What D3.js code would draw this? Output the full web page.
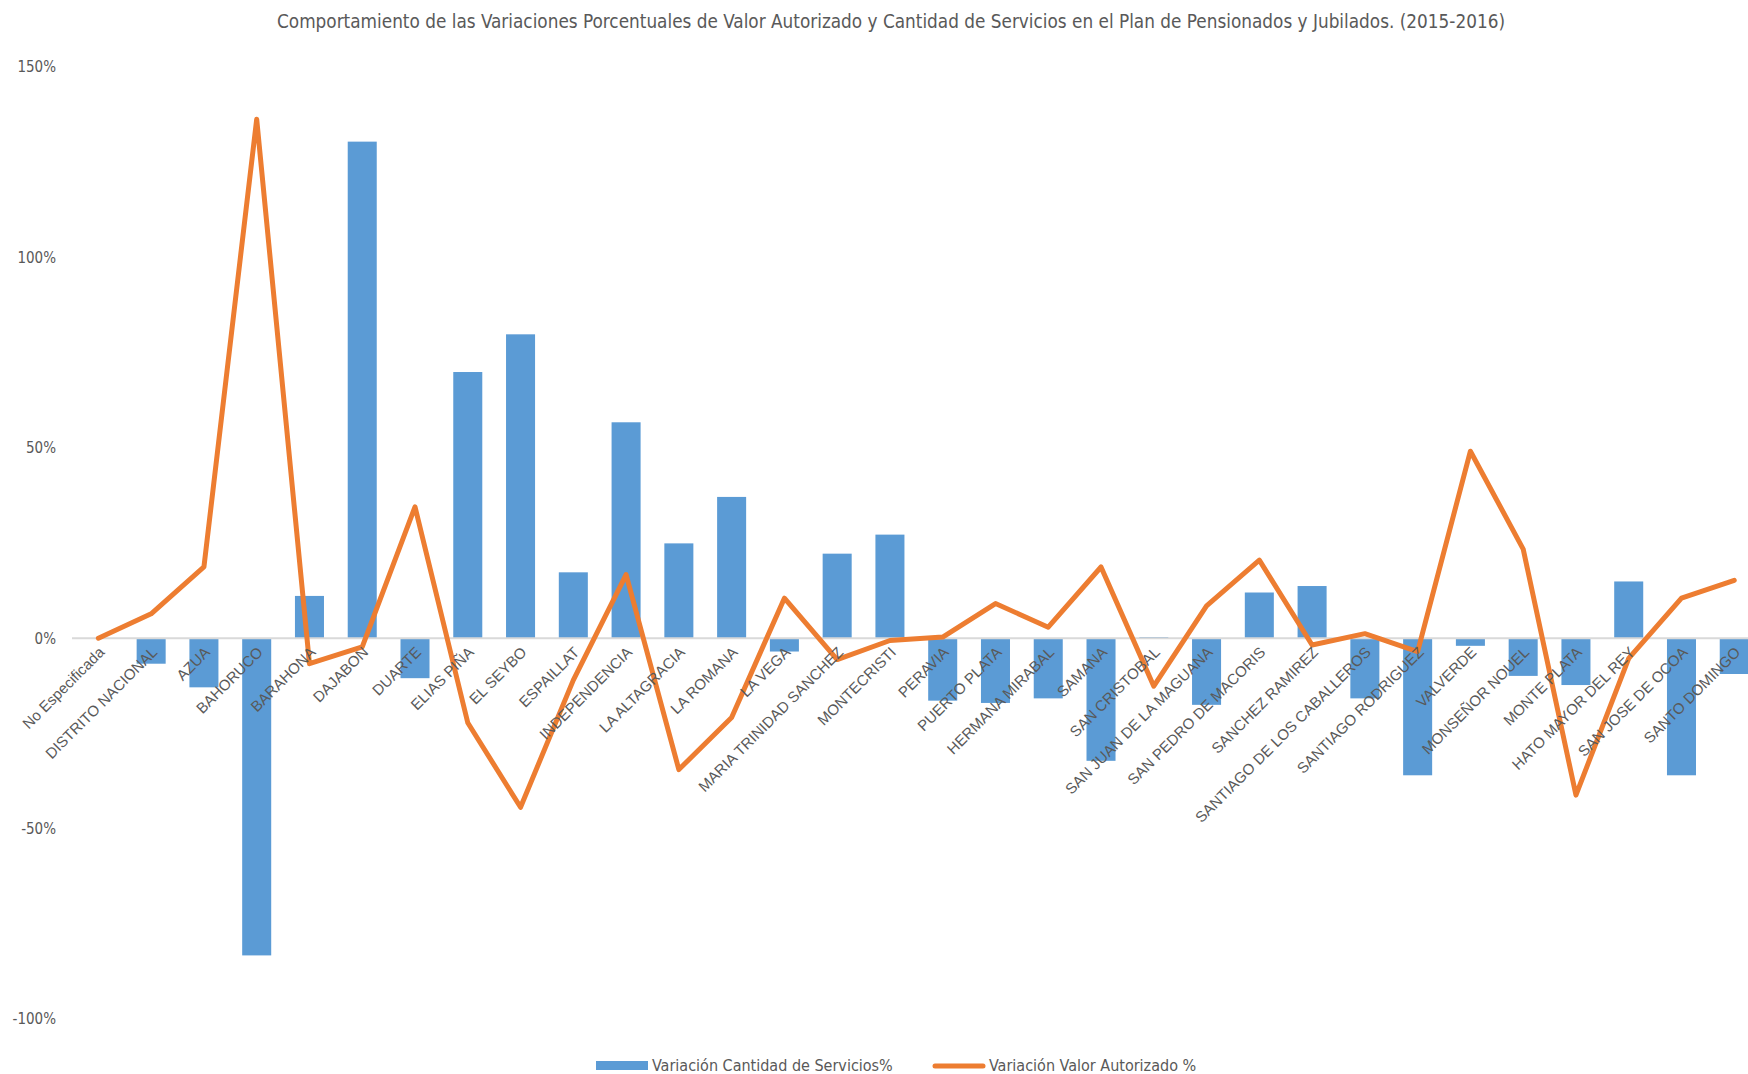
<!DOCTYPE html>
<html><head><meta charset="utf-8">
<script src="https://cdn.jsdelivr.net/npm/d3@7"></script>
<style>
html,body{margin:0;padding:0;background:#fff;overflow:hidden}
svg{display:block}
</style></head>
<body>
<svg id="chart" width="1748" height="1074"></svg>
<script>
const categories = ["No Especificada","DISTRITO NACIONAL","AZUA","BAHORUCO","BARAHONA","DAJABON","DUARTE","ELIAS PIÑA","EL SEYBO","ESPAILLAT","INDEPENDENCIA","LA ALTAGRACIA","LA ROMANA","LA VEGA","MARIA TRINIDAD SANCHEZ","MONTECRISTI","PERAVIA","PUERTO PLATA","HERMANA MIRABAL","SAMANA","SAN CRISTOBAL","SAN JUAN DE LA MAGUANA","SAN PEDRO DE MACORIS","SANCHEZ RAMIREZ","SANTIAGO DE LOS CABALLEROS","SANTIAGO RODRIGUEZ","VALVERDE","MONSEÑOR NOUEL","MONTE PLATA","HATO MAYOR DEL REY","SAN JOSE DE OCOA","SANTO DOMINGO"];
const cantidadServicios = [0,-0.067,-0.129,-0.833,0.111,1.304,-0.105,0.699,0.798,0.173,0.567,0.249,0.371,-0.035,0.222,0.272,-0.164,-0.170,-0.158,-0.322,0.003,-0.175,0.120,0.137,-0.158,-0.360,-0.020,-0.099,-0.123,0.149,-0.360,-0.094];
const valorAutorizado = [0,0.064,0.187,1.363,-0.067,-0.023,0.345,-0.222,-0.444,-0.11,0.167,-0.345,-0.208,0.105,-0.056,-0.006,0.003,0.091,0.029,0.187,-0.126,0.085,0.205,-0.018,0.012,-0.035,0.491,0.234,-0.412,-0.053,0.105,0.152];
const yTicks = [1.5,1.0,0.5,0,-0.5,-1.0];
const yTickLabels = ["150%","100%","50%","0%","-50%","-100%"];
const titleText = "Comportamiento de las Variaciones Porcentuales de Valor Autorizado y Cantidad de Servicios en el Plan de Pensionados y Jubilados. (2015-2016)";
const legendLabels = ["Variación Cantidad de Servicios%","Variación Valor Autorizado %"];

const svg = d3.select("#chart");
const FONT = "'Liberation Sans Narrow','DejaVu Sans Condensed','Roboto',sans-serif";
const barColor = "#5B9BD5", lineColor = "#ED7D31", textColor = "#595959";

const step = 52.77, x0 = 72;
const x = d3.scaleBand().domain(categories).range([x0, x0 + step*categories.length]).paddingInner(0.45).paddingOuter(0.225);
const y = d3.scaleLinear().domain([-1, 1.5]).range([1019, 67]);

// title
svg.append("text").attr("x", 891).attr("y", 28).attr("text-anchor","middle")
  .attr("font-family", FONT).attr("font-size", 19).attr("fill", textColor)
  .attr("textLength", 1228).attr("lengthAdjust","spacingAndGlyphs").text(titleText);

// y axis labels
const yAxis = d3.axisLeft(y).tickValues(yTicks).tickSize(0).tickPadding(0)
  .tickFormat((d,i) => yTickLabels[i]);
const gy = svg.append("g").attr("transform","translate(56,0)").call(yAxis);
gy.select(".domain").remove();
gy.selectAll("text").attr("font-family", FONT).attr("font-size", 15).attr("fill", textColor);

// bars
svg.append("g").selectAll("rect").data(categories).join("rect")
  .attr("x", d => x(d)).attr("width", x.bandwidth())
  .attr("y", (d,i) => Math.min(y(0), y(cantidadServicios[i])))
  .attr("height", (d,i) => Math.abs(y(cantidadServicios[i]) - y(0)))
  .attr("fill", barColor);

// zero line
svg.append("line").attr("x1", x0).attr("x2", 1748).attr("y1", y(0)).attr("y2", y(0))
  .attr("stroke", "#D9D9D9").attr("stroke-width", 2);

// line
const line = d3.line().x((d,i) => x(categories[i]) + x.bandwidth()/2).y(d => y(d));
svg.append("path").datum(valorAutorizado).attr("d", line)
  .attr("fill","none").attr("stroke", lineColor).attr("stroke-width", 5)
  .attr("stroke-linejoin","round").attr("stroke-linecap","round");

// x labels
const gx = svg.append("g").attr("transform", `translate(0,${y(0)})`)
  .call(d3.axisBottom(x).tickSize(0).tickPadding(0));
gx.select(".domain").remove();
gx.selectAll("text")
  .attr("font-family", "'Liberation Sans','DejaVu Sans',sans-serif").attr("font-size", 15).attr("fill", textColor)
  .attr("text-anchor","end").attr("dy", null).attr("y", 0)
  .attr("transform", "translate(7,15) rotate(-45)");

// legend
const lg = svg.append("g");
lg.append("rect").attr("x", 596).attr("y", 1061).attr("width", 52).attr("height", 9).attr("fill", barColor);
lg.append("text").attr("x", 652).attr("y", 1071).attr("font-family", FONT).attr("font-size", 16).attr("fill", textColor).text(legendLabels[0]);
lg.append("line").attr("x1", 935).attr("x2", 983).attr("y1", 1066).attr("y2", 1066)
  .attr("stroke", lineColor).attr("stroke-width", 5).attr("stroke-linecap","round");
lg.append("text").attr("x", 989).attr("y", 1071).attr("font-family", FONT).attr("font-size", 16).attr("fill", textColor).text(legendLabels[1]);
</script>
</body></html>
